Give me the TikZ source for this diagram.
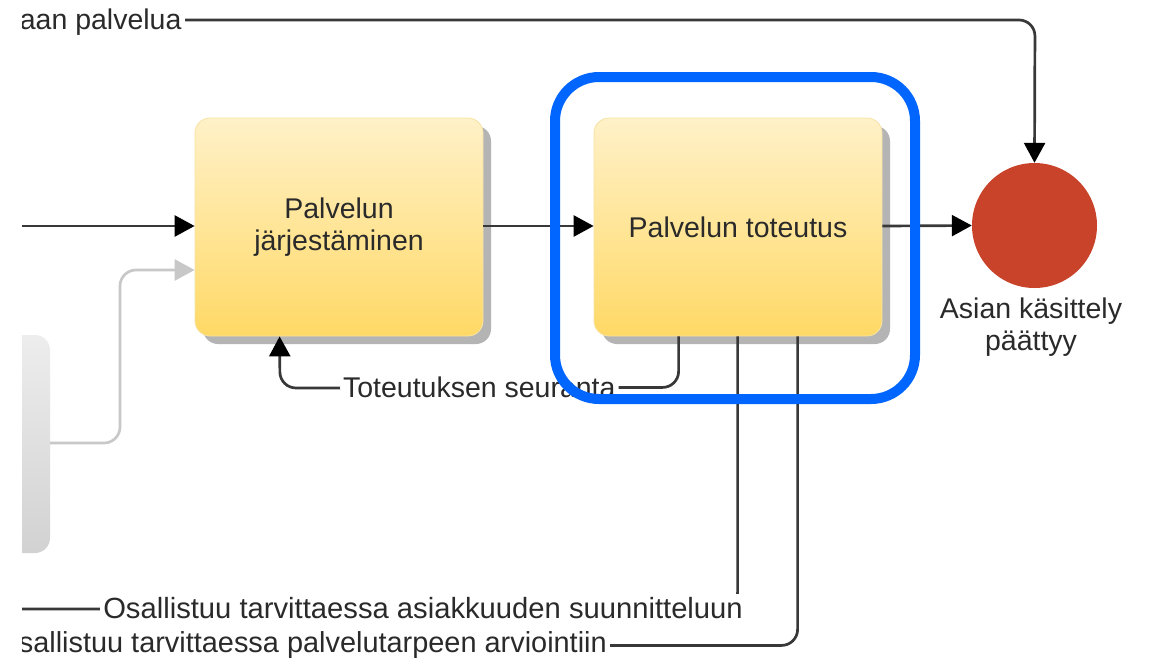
\documentclass[tikz,border=0pt]{standalone}
\usepackage{fontspec}
\setmainfont{Liberation Sans}
\usetikzlibrary{arrows.meta,shadows,calc}
\definecolor{ink}{HTML}{2A2A2A}
\definecolor{wire}{HTML}{383838}
\definecolor{softwire}{HTML}{C8C8C8}
\definecolor{boxtop}{HTML}{FFF1C8}
\definecolor{boxbot}{HTML}{FFD966}
\definecolor{boxline}{HTML}{F6E3A4}
\definecolor{shadowgray}{HTML}{B4B4B4}
\definecolor{endred}{HTML}{C9422A}
\definecolor{focusblue}{HTML}{0066FF}
\definecolor{sidetop}{HTML}{EDEDED}
\definecolor{sidebot}{HTML}{D2D2D2}
\tikzset{
  txt/.style={font=\fontsize{28.5}{32}\selectfont, text=ink},
  taskbox/.style={rectangle, rounded corners=15pt, minimum width=288pt, minimum height=218pt,
    top color=boxtop, bottom color=boxbot, draw=boxline, line width=0.8pt,
    drop shadow={shadow xshift=8pt, shadow yshift=-8pt, fill=shadowgray, opacity=1},
    txt, align=center, inner sep=0pt},
  flow/.style={draw=wire, line width=2.7pt, rounded corners=16pt,
    -{Triangle[length=20pt,width=21pt,fill=black,color=black]}},
  plain/.style={draw=wire, line width=2.7pt, rounded corners=16pt},
  softflow/.style={draw=softwire, line width=2.7pt, rounded corners=16pt,
    -{Triangle[length=20pt,width=21pt,fill=softwire]}},
  edgelabel/.style={txt, fill=white, inner sep=3pt},
  widelabel/.style={edgelabel, font=\fontsize{29.2}{33}\selectfont},
}
\begin{document}
\begin{tikzpicture}[x=1pt,y=-1pt]
\useasboundingbox (0,0) rectangle (1149,662);
\fill[white] (0,0) rectangle (1149,662);
\begin{scope}
\clip (22,-5) rectangle (1155,667);

% side lane on the left, partly cut off
\shade[top color=sidetop, bottom color=sidebot, rounded corners=15pt]
  (-20,335) rectangle (50,553);
\coordinate (laneout) at (50,443);

% tasks and the end event
\node[taskbox] (b1) at (339,227) {Palvelun\\järjestäminen};
\node[taskbox] (b2) at (738,227) {Palvelun toteutus};
\node[circle, fill=endred, minimum size=125pt, inner sep=0pt] (endev) at (1034.5,225.5) {};
\node[txt, align=center, anchor=north] (endlbl) at (1031,294) {Asian käsittely\\päättyy};

% free ends of connectors leaving the picture
\coordinate (inleft) at (10,226);
\coordinate (topleft) at (190,20);
\coordinate (botleft1) at (10,609);
\coordinate (botleft2) at (10,646);

% incoming flows
\draw[flow] (inleft) -- (b1.west |- inleft);
\draw[softflow] (laneout) -- (120,443) -- (120,270) -- (b1.west |- 0,270);

% main sequence
\draw[flow] (b1.east |- 0,226) -- (b2.west |- 0,226);
\draw[flow] (b2.east |- 0,226) -- (endev.west);

% top connector into the end event
\node[txt, anchor=base east] (toplbl) at (185,29) {aan palvelua};
\draw[flow] (toplbl.east |- topleft) -- (1035,20) -- (endev.north);

% monitoring feedback
\draw[flow] ($(b2.south west)+(85,0)$) -- ++(0,51) -- (280,388)
  node[edgelabel, pos=0.5] (seur) {Toteutuksen seuranta}
  -- ($(b1.south west)+(85,0)$);

% participation links
\draw[plain] ($(b2.south west)+(144,0)$) -- ++(0,272) -- (botleft1);
\node[widelabel, anchor=east] (osal1) at (746,608) {Osallistuu tarvittaessa asiakkuuden suunnitteluun};
\draw[plain] ($(b2.south west)+(204,0)$) -- ++(0,309) -- (botleft2);
\node[widelabel, anchor=east, font=\fontsize{28.9}{33}\selectfont] (osal2) at (610,645) {sallistuu tarvittaessa palvelutarpeen arviointiin};

% highlight frame
\draw[focusblue, line width=10pt, rounded corners=44pt] (555,77) rectangle (915,399);
\end{scope}
\end{tikzpicture}
\end{document}
